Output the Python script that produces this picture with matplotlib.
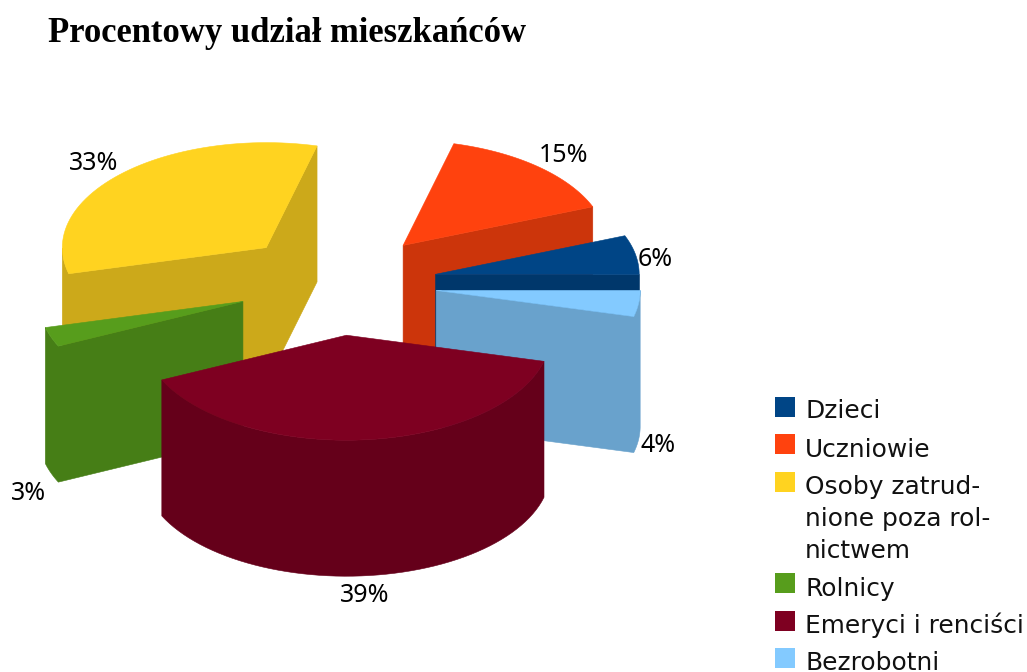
import numpy as np
import matplotlib
matplotlib.use("Agg")
import matplotlib.pyplot as plt
from matplotlib.colors import to_rgb
from matplotlib.patches import Polygon, Rectangle

title = "Procentowy udział mieszkańców"
categories = ["Dzieci", "Uczniowie", "Osoby zatrud-\nnione poza rol-\nnictwem", "Rolnicy", "Emeryci i renciści", "Bezrobotni"]
values = [6, 15, 33, 3, 39, 4]
colors = ["#004586", "#ff420e", "#ffd320", "#579d1c", "#7e0021", "#83caff"]

# pie geometry, in pixels of the picture
cx, cy = 337, 284
rx, ry = 204, 105
depth = 136
explode = 0.49

# back to front
draw_order = [2, 1, 0, 3, 5, 4]

label_pos = [(655, 259), (564, 155), (94, 163), (29, 493), (365, 596), (658, 445)]
legend_baselines = [418, 457, 494, 596, 633, 670]
legend_boxes = [397, 434, 472, 573, 611, 648]
legend_line_step = 32

fig = plt.figure(figsize=(10.27, 6.72), dpi=100)
ax = fig.add_axes([0, 0, 1, 1])
ax.set_xlim(0, 1027)
ax.set_ylim(672, 0)
ax.axis("off")

fracs = np.array(values) / sum(values)
ends = np.cumsum(fracs) * 2 * np.pi
starts = ends - fracs * 2 * np.pi


def draw_slice(i):
	t0, t1 = starts[i], ends[i]
	mid = (t0 + t1) / 2
	ox = cx + explode * rx * np.cos(mid)
	oy = cy - explode * ry * np.sin(mid)

	t = np.linspace(t0, t1, 60)
	arc = np.column_stack([ox + rx * np.cos(t), oy - ry * np.sin(t)])
	top = np.vstack([[ox, oy], arc])

	# sides: only the edges that look down on screen are visible
	side = tuple(0.8 * c for c in to_rgb(colors[i]))
	centre = top.mean(axis=0)
	n = len(top)
	visible = []
	for k in range(n):
		a, b = top[k], top[(k + 1) % n]
		normal = np.array([b[1] - a[1], a[0] - b[0]])
		if normal @ ((a + b) / 2 - centre) < 0:
			normal = -normal
		visible.append(normal[1] > 0)

	# start the walk on a hidden edge, so a wall never gets split at the apex
	first = visible.index(False)
	run = []
	for j in range(n):
		k = (first + j) % n
		if visible[k]:
			if not run:
				run.append(top[k])
			run.append(top[(k + 1) % n])
		elif run:
			draw_wall(run, side)
			run = []
	if run:
		draw_wall(run, side)

	ax.add_patch(Polygon(top, fc=colors[i], ec=colors[i], lw=0.4))


def draw_wall(run, col):
	pts = np.array(run)
	low = pts[::-1] + [0, depth]
	ax.add_patch(Polygon(np.vstack([pts, low]), fc=col, ec=col, lw=0.4))


for i in draw_order:
	draw_slice(i)

for v, (x, y) in zip(values, label_pos):
	ax.text(x, y, f"{v}%", ha="center", va="center", fontsize=18, family="Noto Sans", color="black")

ax.text(48, 42, title, fontsize=24.9, family="Liberation Serif", fontweight="bold", va="baseline")

for name, col, base, box in zip(categories, colors, legend_baselines, legend_boxes):
	ax.add_patch(Rectangle((775, box), 20, 20, fc=col, ec="none"))
	# wrapped names go line by line so each baseline stays where it should
	for k, line in enumerate(name.split("\n")):
		ax.text(805, base + k * legend_line_step, line, fontsize=17.9, family="DejaVu Sans", color="#111111", va="baseline")

fig.savefig("out.png", dpi=100)
